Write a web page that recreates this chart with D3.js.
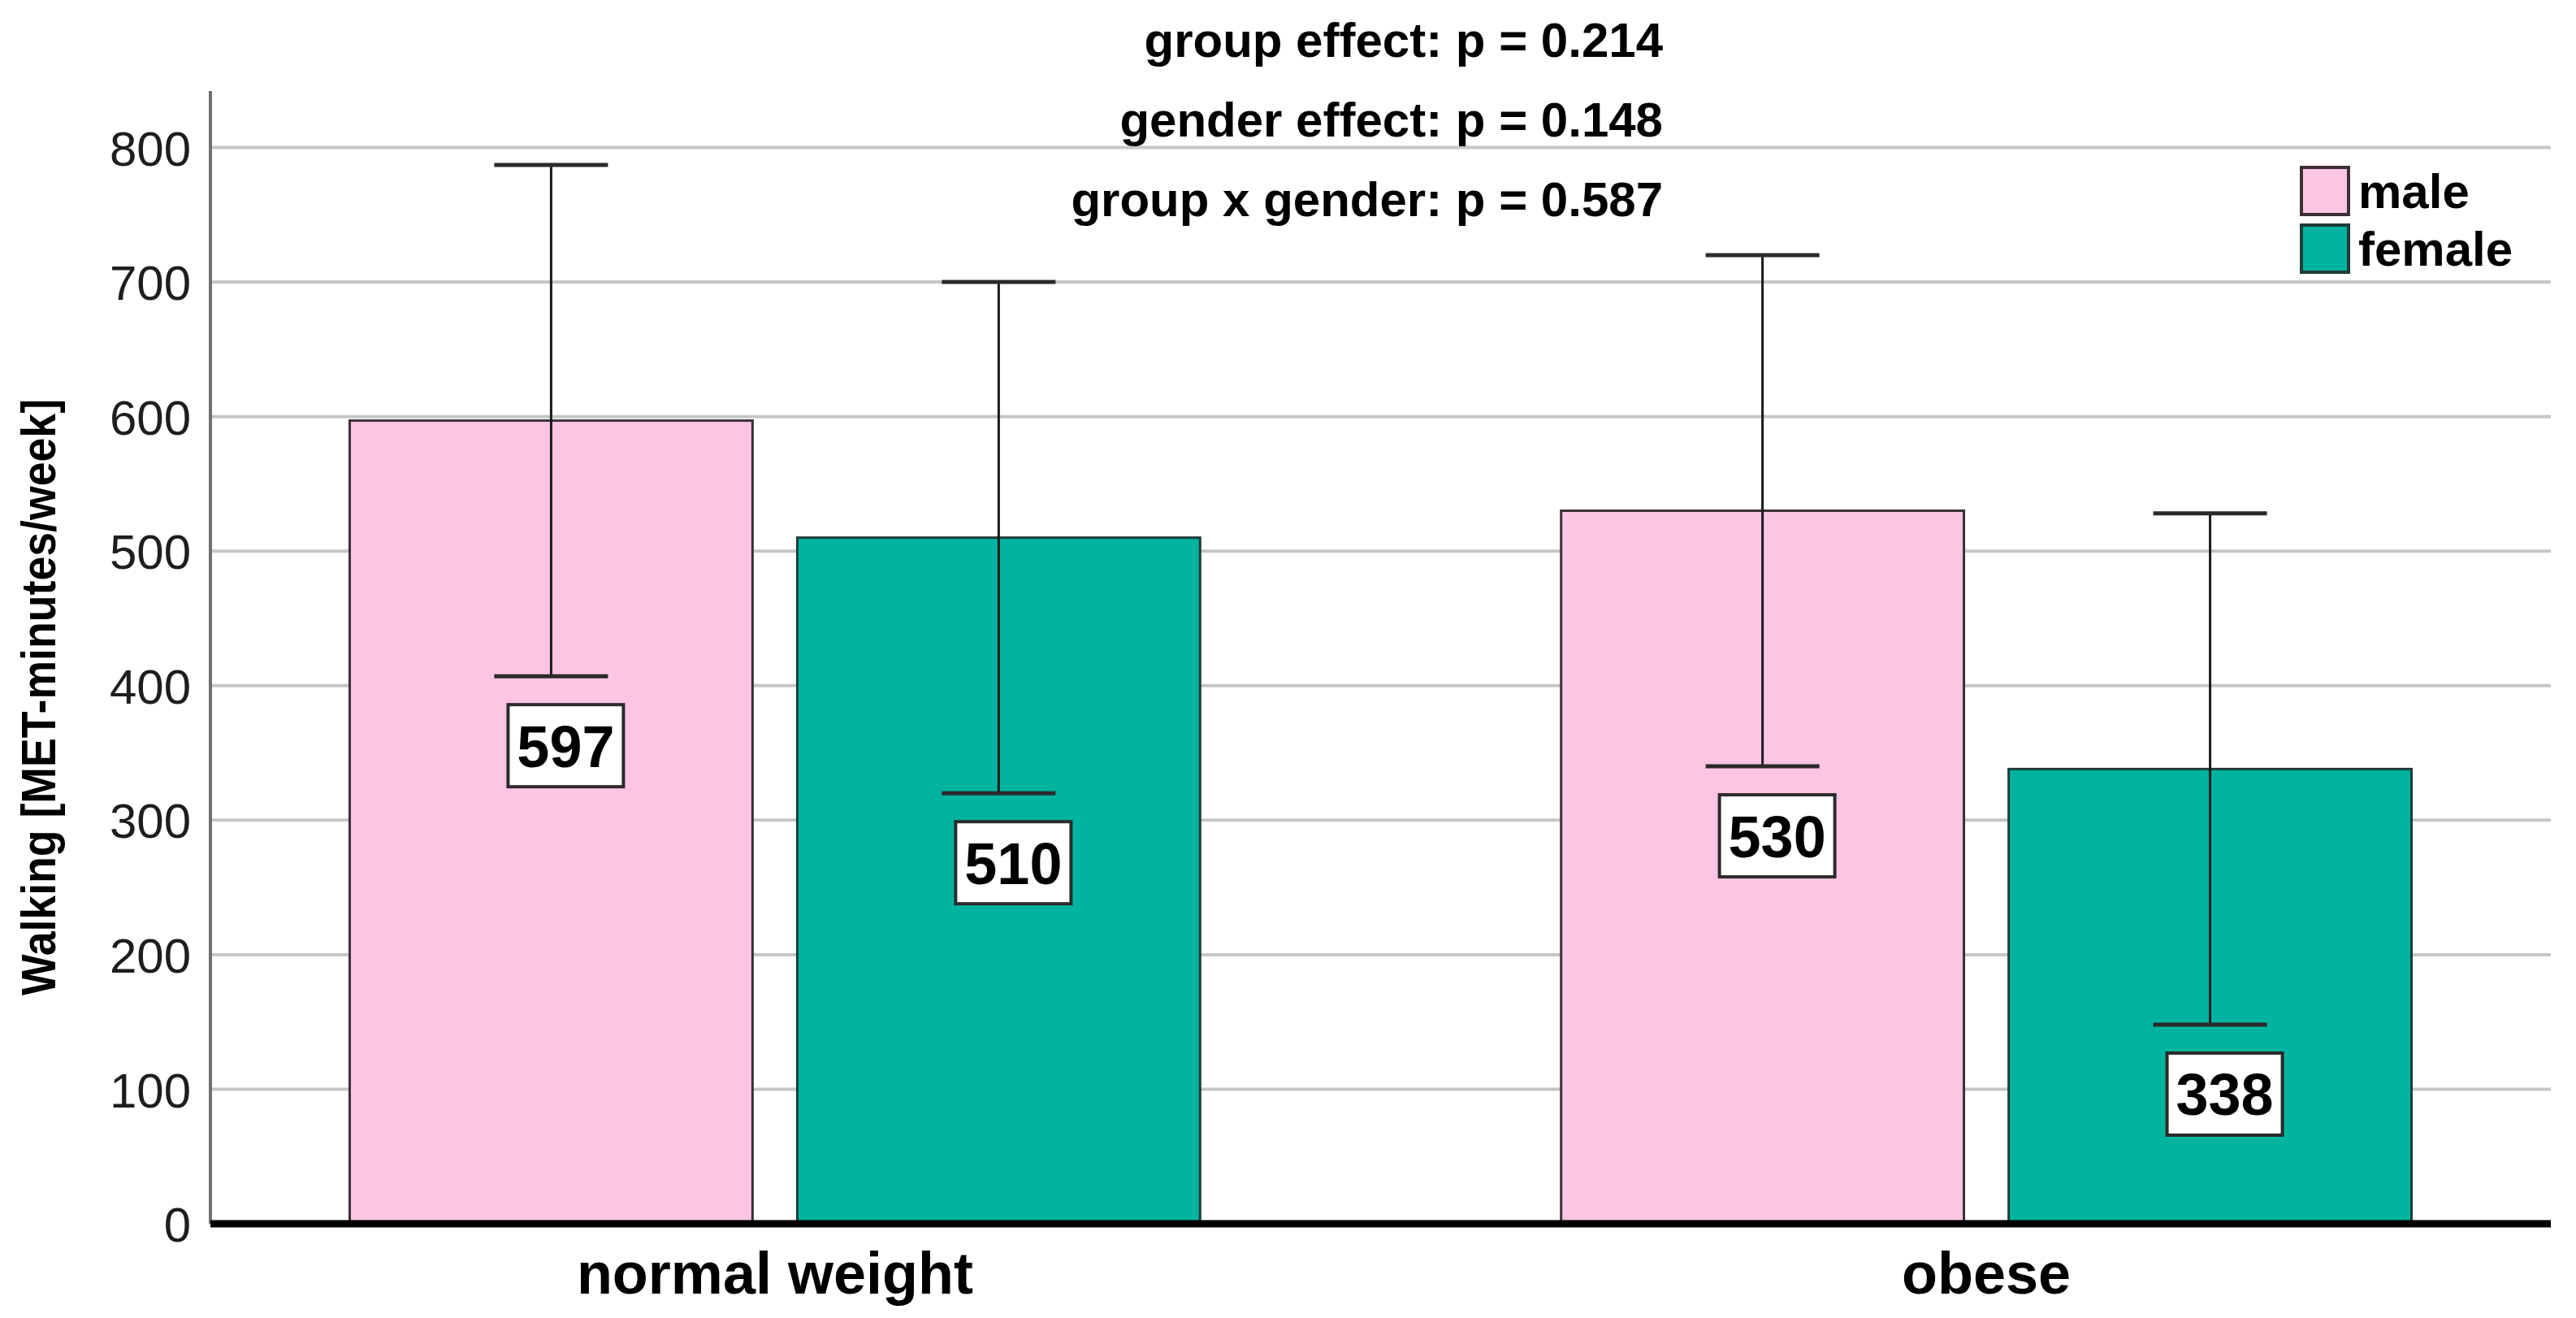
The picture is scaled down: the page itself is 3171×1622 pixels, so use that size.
<!DOCTYPE html>
<html>
<head>
<meta charset="utf-8">
<script src="https://cdn.jsdelivr.net/npm/d3@7"></script>
<style>
    body { margin: 0; background: white; }
    text { font-family: "Liberation Sans", Arial, sans-serif; }
</style>
</head>
<body>
<div id="chart-container"></div>
<script>
// data
const groups = ['normal weight', 'obese']
const genders = ['male', 'female']
const maleMeans = [597, 530]
const femaleMeans = [510, 338]
const maleUpper = [787, 720]
const maleLower = [407, 340]
const femaleUpper = [700, 528]
const femaleLower = [320, 148]
const yTicks = [0, 100, 200, 300, 400, 500, 600, 700, 800]
const pValueLines = ['group effect: p = 0.214', 'gender effect: p = 0.148', 'group x gender: p = 0.587']
const yTitle = 'Walking [MET-minutes/week]'

const colours = { male: '#fdc4e3', female: '#00b4a0' }
const strokes = { male: '#3a3036', female: '#1d3d38' }

const width = 3171
const height = 1622
const margin = { left: 259, right: 31, top: 112, bottom: 116 }

const svg = d3.select('#chart-container')
    .append('svg')
    .attr('id', 'chart-svg')
    .attr('width', width)
    .attr('height', height)

const y = d3.scaleLinear()
    .domain([0, 842])
    .range([height - margin.bottom, margin.top])

const x = d3.scaleBand()
    .domain(groups)
    .range([margin.left, width - margin.right])
    .paddingInner(0.298)
    .paddingOuter(0.115)

const xInner = d3.scaleBand()
    .domain(genders)
    .range([0, x.bandwidth()])
    .paddingInner(0.1)

const rows = []
groups.forEach((g, i) => {
    rows.push({ group: g, gender: 'male', mean: maleMeans[i], upper: maleUpper[i], lower: maleLower[i] })
    rows.push({ group: g, gender: 'female', mean: femaleMeans[i], upper: femaleUpper[i], lower: femaleLower[i] })
})
const cx = d => x(d.group) + xInner(d.gender) + xInner.bandwidth() / 2

// gridlines
svg.append('g')
    .attr('class', 'grid')
    .selectAll('line')
    .data(yTicks.filter(t => t > 0))
    .join('line')
    .attr('x1', margin.left)
    .attr('x2', width - margin.right)
    .attr('y1', d => y(d))
    .attr('y2', d => y(d))
    .attr('stroke', '#c6c6c6')
    .attr('stroke-width', 4)

// y axis labels
const yAxis = svg.append('g')
    .attr('transform', `translate(${margin.left},0)`)
    .call(d3.axisLeft(y).tickValues(yTicks).tickSize(0).tickPadding(24))
yAxis.select('.domain').remove()
yAxis.selectAll('text')
    .style('font-family', '"Liberation Sans", Arial, sans-serif')
    .style('font-size', '60px')
    .attr('fill', '#1e1e1e')
    .attr('dy', '0.36em')

svg.append('line')
    .attr('x1', margin.left)
    .attr('x2', margin.left)
    .attr('y1', margin.top)
    .attr('y2', y(0))
    .attr('stroke', '#707070')
    .attr('stroke-width', 4)

// bars
svg.append('g')
    .attr('class', 'bars')
    .selectAll('rect')
    .data(rows)
    .join('rect')
    .attr('x', d => x(d.group) + xInner(d.gender))
    .attr('y', d => y(d.mean))
    .attr('width', xInner.bandwidth())
    .attr('height', d => y(0) - y(d.mean))
    .attr('fill', d => colours[d.gender])
    .attr('stroke', d => strokes[d.gender])
    .attr('stroke-width', 3)

// error bars
const capHalf = 70
const errors = svg.append('g').attr('class', 'error-bars')
errors.selectAll('.stem')
    .data(rows)
    .join('line')
    .attr('class', 'stem')
    .attr('x1', cx)
    .attr('x2', cx)
    .attr('y1', d => y(d.upper))
    .attr('y2', d => y(d.lower))
    .attr('stroke', '#1a1a1a')
    .attr('stroke-width', 3)
errors.selectAll('.cap')
    .data(rows.flatMap(d => [{ ...d, v: d.upper }, { ...d, v: d.lower }]))
    .join('line')
    .attr('class', 'cap')
    .attr('x1', d => cx(d) - capHalf)
    .attr('x2', d => cx(d) + capHalf)
    .attr('y1', d => y(d.v))
    .attr('y2', d => y(d.v))
    .attr('stroke', '#2a2a2a')
    .attr('stroke-width', 5)

// value labels below the lower cap
const boxW = 142
const boxH = 101
const labels = svg.append('g')
    .attr('class', 'value-labels')
    .selectAll('g')
    .data(rows)
    .join('g')
    .attr('transform', d => `translate(${cx(d) + 18},${y(d.lower) + 35 + boxH / 2})`)
labels.append('rect')
    .attr('x', -boxW / 2)
    .attr('y', -boxH / 2)
    .attr('width', boxW)
    .attr('height', boxH)
    .attr('fill', 'white')
    .attr('stroke', '#2b2b2b')
    .attr('stroke-width', 4)
labels.append('text')
    .attr('text-anchor', 'middle')
    .attr('dy', '0.36em')
    .style('font-size', '72px')
    .style('font-weight', 'bold')
    .text(d => d.mean)

// x axis
svg.append('line')
    .attr('x1', margin.left)
    .attr('x2', width - margin.right)
    .attr('y1', y(0))
    .attr('y2', y(0))
    .attr('stroke', 'black')
    .attr('stroke-width', 9)

svg.append('g')
    .selectAll('text')
    .data(groups)
    .join('text')
    .attr('x', d => x(d) + x.bandwidth() / 2)
    .attr('y', 1592)
    .attr('text-anchor', 'middle')
    .style('font-size', '72px')
    .style('font-weight', 'bold')
    .text(d => d)

// y title
svg.append('text')
    .attr('transform', 'translate(68,858) rotate(-90)')
    .attr('text-anchor', 'middle')
    .attr('textLength', 734)
    .attr('lengthAdjust', 'spacingAndGlyphs')
    .style('font-size', '60px')
    .style('font-weight', 'bold')
    .text(yTitle)

// p-values
svg.append('g')
    .selectAll('text')
    .data(pValueLines)
    .join('text')
    .attr('x', 2047)
    .attr('y', (d, i) => 70 + i * 98)
    .attr('text-anchor', 'end')
    .style('font-size', '60px')
    .style('font-weight', 'bold')
    .text(d => d)

// legend
const legend = svg.append('g')
    .attr('class', 'legend')
    .selectAll('g')
    .data(genders)
    .join('g')
    .attr('transform', (d, i) => `translate(2833,${206 + i * 71})`)
legend.append('rect')
    .attr('width', 58)
    .attr('height', 58)
    .attr('fill', d => colours[d])
    .attr('stroke', d => strokes[d])
    .attr('stroke-width', 4)
legend.append('text')
    .attr('x', 70)
    .attr('y', 50)
    .style('font-size', '60px')
    .style('font-weight', 'bold')
    .text(d => d)
</script>
</body>
</html>
